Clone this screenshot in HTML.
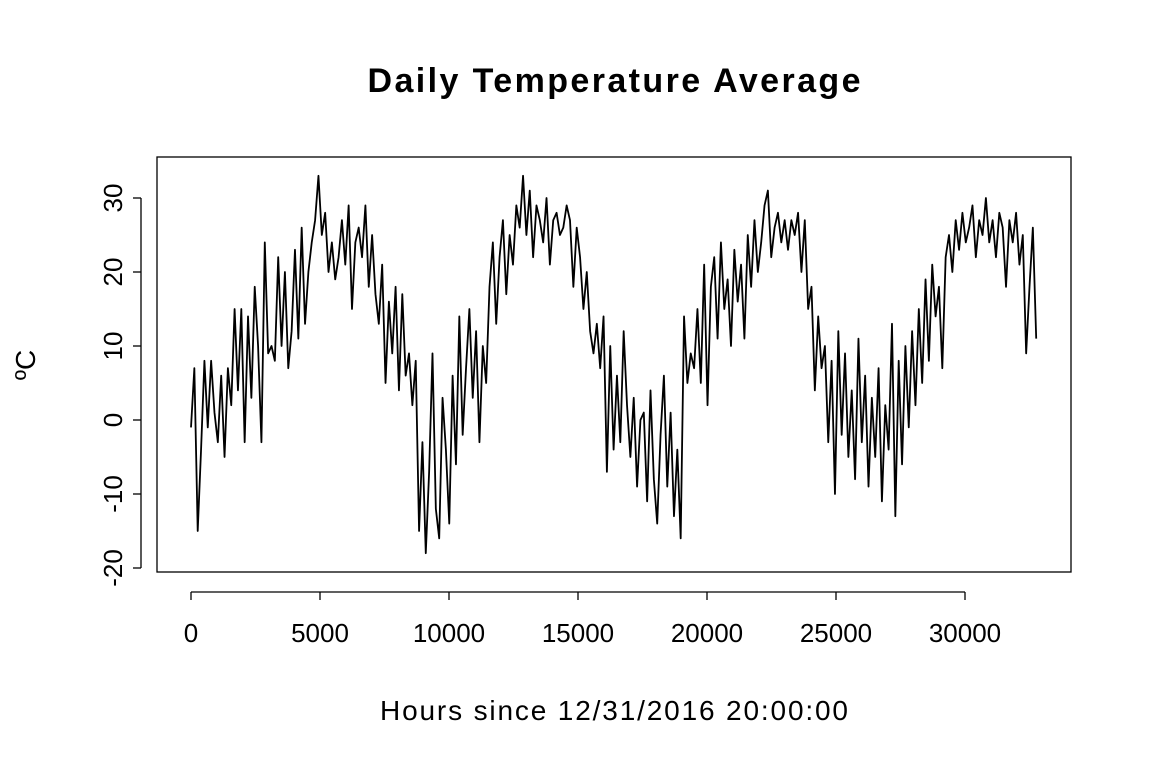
<!DOCTYPE html>
<html><head><meta charset="utf-8"><style>
html,body{margin:0;padding:0;background:#fff;}
svg text{font-family:"Liberation Sans",Arial,sans-serif;fill:#000;}
</style></head><body>
<svg id="chart" width="1152" height="768">
<text x="614" y="92" font-size="34" font-weight="bold" text-anchor="middle" textLength="493">Daily Temperature Average</text>
<rect x="157" y="157" width="914" height="415" fill="none" stroke="#000" stroke-width="1.3"/>
<text x="614" y="720" font-size="28" text-anchor="middle" textLength="468">Hours since 12/31/2016 20:00:00</text>
<text transform="translate(35,365) rotate(-90)" font-size="28" text-anchor="middle">ºC</text>
<g id="xaxis"></g>
<g id="yaxis"></g>
<path id="line" fill="none" stroke="#000" stroke-width="1.8" stroke-linejoin="round"/>
</svg>
<script>
const stepHours = 130;
const temps = [
-1,7,-15,-4,8,-1,8,1,-3,6,-5,7,2,15,4,15,-3,14,3,18,
10,-3,24,9,10,8,22,10,20,7,12,23,11,26,13,20,24,27,33,25,
28,20,24,19,22,27,21,29,15,24,26,22,29,18,25,17,13,21,5,16,
9,18,4,17,6,9,2,8,-15,-3,-18,-7,9,-12,-16,3,-4,-14,6,-6,
14,-2,7,15,3,12,-3,10,5,18,24,13,22,27,17,25,21,29,26,33,
25,31,22,29,27,24,30,21,27,28,25,26,29,27,18,26,22,15,20,12,
9,13,7,14,-7,10,-4,6,-3,12,2,-5,3,-9,0,1,-11,4,-8,-14,
-2,6,-9,1,-13,-4,-16,14,5,9,7,15,5,21,2,18,22,11,24,15,
19,10,23,16,21,11,25,18,27,20,24,29,31,22,26,28,24,27,23,27,
25,28,20,27,15,18,4,14,7,10,-3,8,-10,12,-2,9,-5,4,-8,11,
-3,6,-9,3,-5,7,-11,2,-4,13,-13,8,-6,10,-1,12,2,15,5,19,
8,21,14,18,7,22,25,20,27,23,28,24,26,29,22,27,25,30,24,27,
22,28,26,18,27,24,28,21,25,9,18,26,11
];
const xTicks = [0,5000,10000,15000,20000,25000,30000];
const yTicks = [-20,-10,0,10,20,30];
const xs = v => 191 + v * 129 / 5000;
const ys = v => 420 - v * 7.4;
const NS = "http://www.w3.org/2000/svg";
function mk(tag, attrs, parent){const e=document.createElementNS(NS,tag);for(const k in attrs)e.setAttribute(k,attrs[k]);parent.appendChild(e);return e;}
const xa = document.getElementById('xaxis'), ya = document.getElementById('yaxis');
mk('line',{x1:xs(xTicks[0]),x2:xs(xTicks[xTicks.length-1]),y1:592,y2:592,stroke:'#000','stroke-width':1.3},xa);
xTicks.forEach(t=>{
  const l=mk('line',{x1:xs(t),x2:xs(t),y1:592,y2:600,stroke:'#000','stroke-width':1.3},xa);
  
  
  const tx=mk('text',{x:xs(t),y:642,'font-size':26,'text-anchor':'middle'},xa);
  tx.textContent=t;
  
  
});
mk('line',{x1:141,x2:141,y1:ys(yTicks[0]),y2:ys(yTicks[yTicks.length-1]),stroke:'#000','stroke-width':1.3},ya);
yTicks.forEach(t=>{
  const l=mk('line',{x1:133,x2:141,y1:ys(t),y2:ys(t),stroke:'#000','stroke-width':1.3},ya);
  
  
  const tx=mk('text',{transform:`translate(122,${ys(t)}) rotate(-90)`,'font-size':26,'text-anchor':'middle'},ya);
  tx.textContent=t;
  
  
});
document.getElementById('line').setAttribute('d', temps.map((v,i)=>(i?'L':'M')+xs(i*stepHours).toFixed(2)+','+ys(v).toFixed(2)).join(''));
</script>
</body></html>
